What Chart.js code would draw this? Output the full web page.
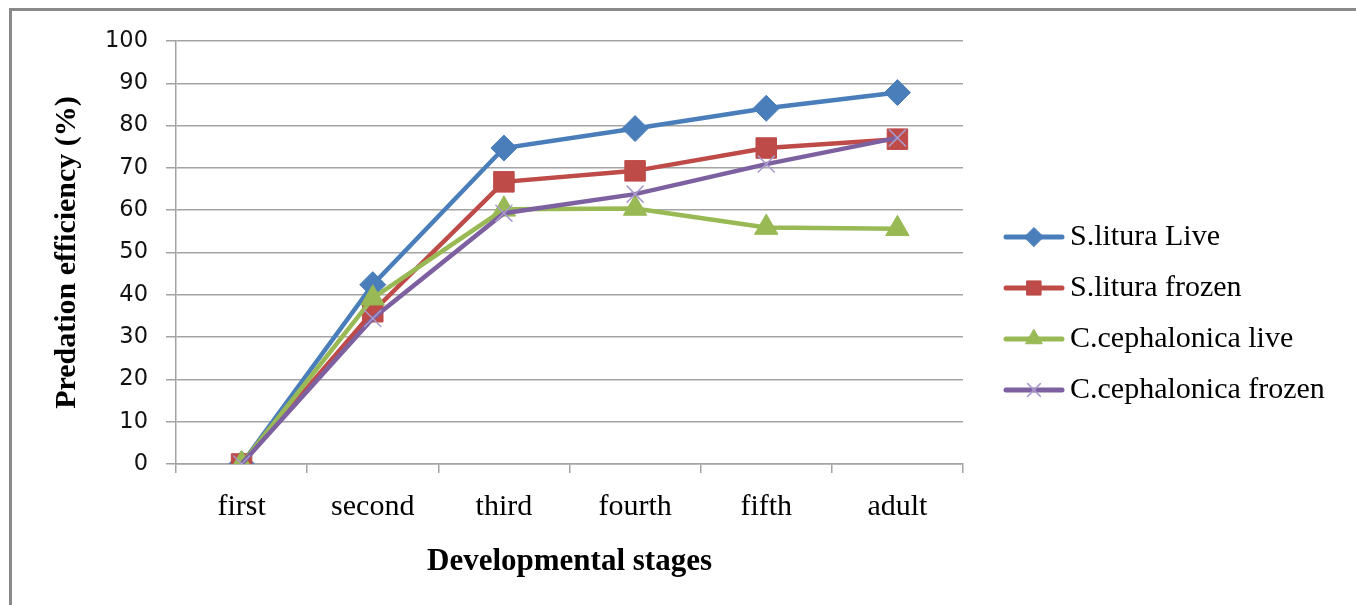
<!DOCTYPE html>
<html>
<head>
<meta charset="utf-8">
<script src="https://cdn.jsdelivr.net/npm/chart.js@4.4.1/dist/chart.umd.min.js"></script>
<style>
  html, body { margin: 0; padding: 0; background: #fff; }
  #wrap { position: relative; width: 1356px; height: 605px; }
</style>
</head>
<body>
<div id="wrap"><canvas id="chart"></canvas></div>
<script>
// values
const stages = ['first', 'second', 'third', 'fourth', 'fifth', 'adult'];
const sLituraLive = [0, 42.4, 74.7, 79.3, 84.1, 87.8];
const sLituraFrozen = [0, 36.0, 66.7, 69.3, 74.7, 76.8];
const cCephalonicaLive = [0, 39.2, 60.2, 60.4, 55.9, 55.6];
const cCephalonicaFrozen = [0, 34.4, 59.3, 63.8, 70.9, 77.1];
const yTicks = [0, 10, 20, 30, 40, 50, 60, 70, 80, 90, 100];

const gridGray = '#a3a3a3';
const serif = '"Liberation Serif", "Times New Roman", serif';

// gray frame like the pasted Excel chart
const framePlugin = {
  id: 'frame',
  beforeDraw(chart) {
    const ctx = chart.ctx;
    ctx.save();
    ctx.fillStyle = '#fff';
    ctx.fillRect(0, 0, chart.width, chart.height);
    ctx.strokeStyle = '#8a8a8a';
    ctx.lineWidth = 3;
    ctx.beginPath();
    ctx.moveTo(10.5, chart.height + 5);
    ctx.lineTo(10.5, 9.5);
    ctx.lineTo(chart.width + 5, 9.5);
    ctx.stroke();
    ctx.restore();
  }
};

// legend on the right: line with marker, then label
const sideLegend = {
  id: 'sideLegend',
  afterDraw(chart) {
    const ctx = chart.ctx;
    chart.data.datasets.forEach((ds, i) => {
      const y = 237 + i * 51;
      ctx.save();
      ctx.strokeStyle = ds.borderColor;
      ctx.lineWidth = 5;
      ctx.lineCap = 'round';
      ctx.beginPath();
      ctx.moveTo(1006, y);
      ctx.lineTo(1062, y);
      ctx.stroke();
      ctx.fillStyle = ds.pointBackgroundColor;
      ctx.strokeStyle = ds.pointBorderColor;
      ctx.lineWidth = ds.pointBorderWidth;
      Chart.helpers.drawPoint(ctx, {
        pointStyle: ds.pointStyle,
        radius: ds.legendRadius,
        borderWidth: ds.pointBorderWidth,
        rotation: 0
      }, 1034, y);
      ctx.fillStyle = '#000';
      ctx.font = '30px ' + serif;
      ctx.textBaseline = 'middle';
      ctx.textAlign = 'left';
      ctx.fillText(ds.label, 1070, y);
      ctx.restore();
    });
  }
};

const data = {
  labels: stages,
  datasets: [
    {
      label: 'S.litura Live',
      data: sLituraLive,
      borderColor: '#4a7ebb',
      pointBackgroundColor: '#4a7ebb',
      pointBorderColor: '#4a7ebb',
      pointBorderWidth: 1,
      pointStyle: 'rectRot',
      pointRadius: 13,
      legendRadius: 9.5,
      order: 4
    },
    {
      label: 'S.litura frozen',
      data: sLituraFrozen,
      borderColor: '#be4b48',
      pointBackgroundColor: '#be4b48',
      pointBorderColor: '#be4b48',
      pointBorderWidth: 1,
      pointStyle: 'rect',
      pointRadius: 14.5,
      legendRadius: 10,
      order: 3
    },
    {
      label: 'C.cephalonica live',
      data: cCephalonicaLive,
      borderColor: '#98b954',
      pointBackgroundColor: '#98b954',
      pointBorderColor: '#98b954',
      pointBorderWidth: 1,
      pointStyle: 'triangle',
      pointRadius: 13.5,
      legendRadius: 9.5,
      order: 2
    },
    {
      label: 'C.cephalonica frozen',
      data: cCephalonicaFrozen,
      borderColor: '#7d60a0',
      pointBackgroundColor: '#7d60a0',
      pointBorderColor: '#a99acb',
      pointBorderWidth: 1.5,
      pointStyle: 'crossRot',
      pointRadius: 12,
      legendRadius: 9,
      order: 1
    }
  ]
};

const config = {
  type: 'line',
  data: data,
  options: {
    animation: false,
    responsive: false,
    devicePixelRatio: 1,
    layout: {
      padding: { left: 0, top: 41, right: 393, bottom: 0 }
    },
    elements: {
      line: { borderWidth: 4.5, tension: 0 }
    },
    scales: {
      x: {
        type: 'category',
        offset: true,
        afterFit: (scale) => { scale.height = 141; },
        grid: {
          offset: true,
          drawOnChartArea: false,
          drawTicks: true,
          tickLength: 9,
          color: gridGray,
          lineWidth: 1.5
        },
        border: { display: true, color: gridGray, width: 1.5 },
        ticks: {
          color: '#000',
          padding: 16,
          maxRotation: 0,
          font: { family: serif, size: 30 }
        },
        title: {
          display: true,
          text: 'Developmental stages',
          color: '#000',
          padding: { top: 0, bottom: 24 },
          font: { family: serif, size: 31, weight: 'bold' }
        }
      },
      y: {
        type: 'linear',
        min: 0,
        max: 100,
        afterFit: (scale) => { scale.width = 176; },
        afterBuildTicks: (scale) => { scale.ticks = yTicks.map(v => ({ value: v })); },
        grid: {
          color: gridGray,
          lineWidth: 1.5,
          drawTicks: true,
          tickLength: 10
        },
        border: { display: true, color: gridGray, width: 1.5 },
        ticks: {
          color: '#111',
          padding: 18,
          font: { family: '"DejaVu Sans", Verdana, sans-serif', size: 22.5 }
        },
        title: {
          display: true,
          text: 'Predation efficiency (%)',
          color: '#000',
          padding: { top: 49, bottom: 0 },
          font: { family: serif, size: 30, weight: 'bold' }
        }
      }
    },
    plugins: {
      legend: { display: false },
      tooltip: { enabled: false }
    }
  },
  plugins: [framePlugin, sideLegend]
};

const canvas = document.getElementById('chart');
canvas.width = 1356;
canvas.height = 605;
canvas.style.width = '1356px';
canvas.style.height = '605px';
const chart = new Chart(canvas, config);
</script>
</body>
</html>
